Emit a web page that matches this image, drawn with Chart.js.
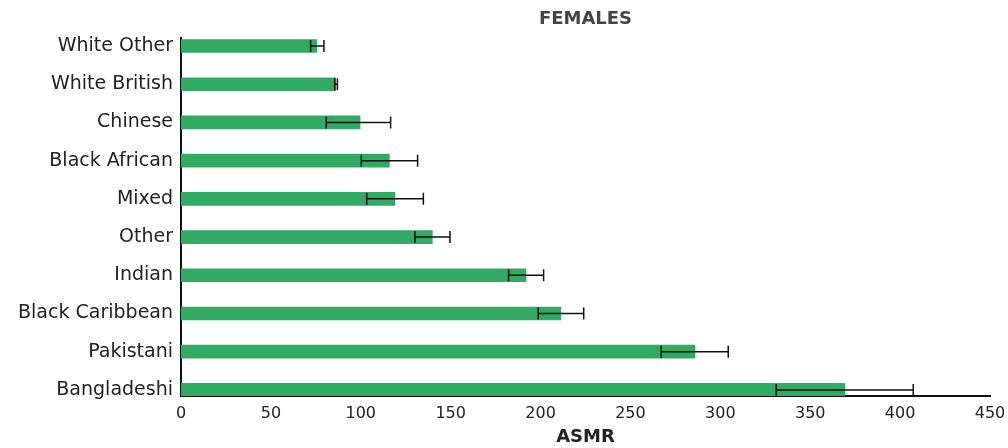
<!DOCTYPE html>
<html>
<head>
<meta charset="utf-8">
<script src="https://cdn.jsdelivr.net/npm/chart.js@4.4.1/dist/chart.umd.min.js"></script>
<style>
  html, body { margin: 0; padding: 0; background: #fff; }
  #wrap { width: 1008px; height: 448px; position: relative; }
</style>
</head>
<body>
<div id="wrap"><canvas id="chart"></canvas></div>
<script>
// ethnic groups, top to bottom
var groups = ['White Other', 'White British', 'Chinese', 'Black African', 'Mixed',
  'Other', 'Indian', 'Black Caribbean', 'Pakistani', 'Bangladeshi'];
// age-standardised mortality rate and its confidence interval
var asmr = [75.5, 86, 99.6, 115.9, 119, 139.8, 191.9, 211.3, 285.9, 369.3];
var ciLow = [72.1, 85.5, 80.8, 100.3, 103.3, 130.1, 182.2, 198.7, 267.1, 331.1];
var ciHigh = [79.5, 87, 116.6, 131.6, 134.8, 149.6, 201.7, 224, 304.4, 407.3];
var xTicks = [0, 50, 100, 150, 200, 250, 300, 350, 400, 450];

var FONT = '"DejaVu Sans", sans-serif';
var GREEN = '#31ab64';

var points = asmr.map(function (v, i) { return { x: v, y: i }; });

// whiskers for the intervals, placed through the chart scales
var errorBars = {
  id: 'errorBars',
  afterDatasetsDraw: function (chart) {
    var xs = chart.scales.x, ys = chart.scales.y, ctx = chart.ctx;
    var cap = 6;
    ctx.save();
    ctx.strokeStyle = '#111';
    ctx.lineWidth = 1.5;
    for (var i = 0; i < groups.length; i++) {
      var y = ys.getPixelForValue(i);
      var x1 = xs.getPixelForValue(ciLow[i]);
      var x2 = xs.getPixelForValue(ciHigh[i]);
      ctx.beginPath();
      ctx.moveTo(x1, y); ctx.lineTo(x2, y);
      ctx.moveTo(x1, y - cap); ctx.lineTo(x1, y + cap);
      ctx.moveTo(x2, y - cap); ctx.lineTo(x2, y + cap);
      ctx.stroke();
    }
    ctx.restore();
  }
};

new Chart(document.getElementById('chart'), {
  type: 'bar',
  data: {
    datasets: [{
      data: points,
      backgroundColor: GREEN,
      borderWidth: 0,
      barThickness: 13
    }]
  },
  options: {
    indexAxis: 'y',
    responsive: true,
    maintainAspectRatio: false,
    animation: false,
    layout: { padding: { left: 0, right: 18, top: 0, bottom: 0 } },
    plugins: {
      legend: { display: false },
      tooltip: { enabled: false }
    },
    scales: {
      x: {
        type: 'linear',
        min: 0,
        max: 450,
        afterFit: function (s) {
          s.height = 52;
          s.paddingRight = 18;
        },
        afterBuildTicks: function (s) {
          s.ticks = xTicks.map(function (v) { return { value: v }; });
        },
        grid: { display: false, drawTicks: false },
        border: { display: true, color: '#111', width: 2 },
        ticks: {
          color: '#222',
          font: { family: FONT, size: 16 },
          padding: 8,
          maxRotation: 0
        },
        title: {
          display: true,
          text: 'ASMR',
          color: '#222',
          font: { family: FONT, size: 18, weight: 'bold' },
          padding: { top: 0, bottom: 0 }
        }
      },
      x2: {
        type: 'linear',
        position: 'top',
        min: 0,
        max: 450,
        afterFit: function (s) { s.height = 38; },
        grid: { display: false, drawTicks: false },
        border: { display: false },
        ticks: { display: false },
        title: {
          display: true,
          text: 'FEMALES',
          color: '#444',
          font: { family: FONT, size: 18, weight: 'bold' },
          padding: { top: 9, bottom: 0 }
        }
      },
      y: {
        type: 'linear',
        reverse: true,
        offset: false,
        min: -0.21,
        max: 9.16,
        afterFit: function (s) { s.width = 181; },
        afterBuildTicks: function (s) {
          s.ticks = groups.map(function (g, i) { return { value: i }; });
        },
        grid: { display: false, drawTicks: false, offset: false },
        border: { display: true, color: '#111', width: 2 },
        ticks: {
          color: '#222',
          font: { family: FONT, size: 19 },
          padding: 8,
          callback: function (v) { return groups[v]; }
        }
      }
    }
  },
  plugins: [errorBars]
});
</script>
</body>
</html>
